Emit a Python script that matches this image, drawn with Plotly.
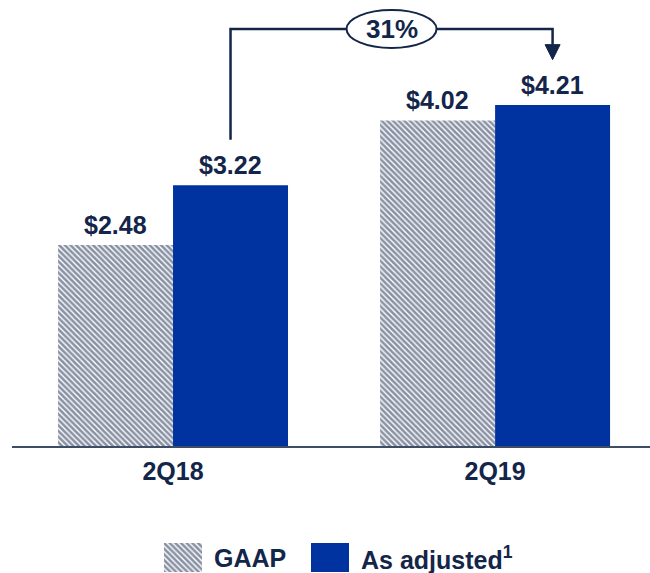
import plotly.graph_objects as go

categories = ["2Q18", "2Q19"]
gaap = [2.48, 4.02]
adjusted = [3.22, 4.21]
series_names = ["GAAP", "As adjusted<sup>1</sup>"]

NAVY = "#14254a"
BLUE = "#0033a0"
FONT = "Liberation Sans, Arial, sans-serif"

W, H = 650, 573
BASE_PX = 446
Y_DOM0 = (H - BASE_PX) / H
PX_PER_UNIT = 81.0
YMAX = BASE_PX / PX_PER_UNIT
XR = [-0.5, 1.481]
BARGAP = 0.286
BW = (1 - BARGAP) / 2          # width of each bar in category units
XPX = (W - 12) / (XR[1] - XR[0])  # px per category unit

HATCH = dict(shape="\\", fgcolor=NAVY, bgcolor="white",
             size=4, solidity=0.65, fillmode="overlay")

fig = go.Figure()
fig.add_trace(go.Bar(
    x=categories, y=gaap, name=series_names[0], showlegend=False,
    marker=dict(color="white", line=dict(width=0), pattern=HATCH),
    hoverinfo="skip"))
fig.add_trace(go.Bar(
    x=categories, y=adjusted, name=series_names[1], showlegend=False,
    marker=dict(color=BLUE, line=dict(width=0)), hoverinfo="skip"))

annotations = []
# value labels
for i, c in enumerate(categories):
    for off, vals in ((-BW / 2, gaap), (BW / 2, adjusted)):
        annotations.append(dict(
            x=i + off, y=vals[i], xref="x", yref="y", text=f"<b>${vals[i]:.2f}</b>",
            showarrow=False, yanchor="bottom", yshift=4,
            font=dict(family=FONT, size=25, color=NAVY)))

# growth bracket
x1 = 0 + BW / 2
x2 = 1 + BW / 2
gap = 0.56
ytop = (BASE_PX - 29) / PX_PER_UNIT
y_start = adjusted[0] + gap
y_tip = adjusted[1] + gap
ah = 15 / PX_PER_UNIT
aw = 7.5 / XPX
growth = adjusted[1] / adjusted[0] - 1

shapes = [
    dict(type="path", xref="x", yref="y",
         path=f"M {x1},{y_start} L {x1},{ytop} L {x2},{ytop} L {x2},{y_tip + ah}",
         line=dict(color=NAVY, width=2.5)),
    dict(type="path", xref="x", yref="y",
         path=f"M {x2 - aw},{y_tip + ah} L {x2 + aw},{y_tip + ah} L {x2},{y_tip} Z",
         fillcolor=NAVY, line=dict(color=NAVY, width=1)),
]
xm = (x1 + x2) / 2
ow = 45 / XPX
oh = 19 / PX_PER_UNIT
shapes.append(dict(type="circle", xref="x", yref="y",
                   x0=xm - ow, x1=xm + ow, y0=ytop - oh, y1=ytop + oh,
                   fillcolor="white", line=dict(color=NAVY, width=2)))
annotations.append(dict(x=xm, y=ytop, xref="x", yref="y",
                        text=f"<b>{growth * 100:.0f}%</b>", showarrow=False,
                        font=dict(family=FONT, size=26, color=NAVY)))

# custom legend swatches (on a separate small axis)
fig.add_trace(go.Bar(
    x=[183], y=[1], width=[38], xaxis="x2", yaxis="y2", showlegend=False,
    marker=dict(color="white", line=dict(width=0), pattern=HATCH),
    hoverinfo="skip"))
fig.add_trace(go.Bar(
    x=[330], y=[1], width=[38], xaxis="x2", yaxis="y2", showlegend=False,
    marker=dict(color=BLUE, line=dict(width=0)), hoverinfo="skip"))
annotations.append(dict(x=212, y=0.5, xref="x2", yref="y2", xanchor="left",
                        text=f"<b>{series_names[0]}</b>", showarrow=False,
                        font=dict(family=FONT, size=25, color=NAVY)))
annotations.append(dict(x=359, y=0.5, xref="x2", yref="y2", xanchor="left",
                        text=f"<b>{series_names[1]}</b>", showarrow=False,
                        font=dict(family=FONT, size=25, color=NAVY)))

fig.update_layout(
    width=W, height=H, margin=dict(l=0, r=0, t=0, b=0),
    paper_bgcolor="white", plot_bgcolor="white",
    barmode="group", bargap=BARGAP, bargroupgap=0,
    shapes=shapes, annotations=annotations,
    font=dict(family=FONT, color=NAVY),
    xaxis=dict(domain=[12 / W, 1], range=XR, showline=True, linecolor="#3d4d63",
               linewidth=2, showgrid=False, zeroline=False,
               ticks="outside", ticklen=2, tickcolor="rgba(0,0,0,0)",
               tickfont=dict(family=FONT, size=25, color=NAVY, weight="bold"),
               fixedrange=True),
    yaxis=dict(domain=[Y_DOM0, 1], range=[0, YMAX], visible=False, fixedrange=True),
    xaxis2=dict(domain=[0, 1], range=[0, W], visible=False, anchor="y2",
                fixedrange=True),
    yaxis2=dict(domain=[1 / H, 30 / H], range=[0, 1], visible=False, anchor="x2",
                fixedrange=True),
)

fig.write_html(
    "out.html",
    config={"displayModeBar": False},
    post_script="document.body.style.margin='0';document.body.style.padding='0';"
                "document.documentElement.style.overflow='hidden';")
